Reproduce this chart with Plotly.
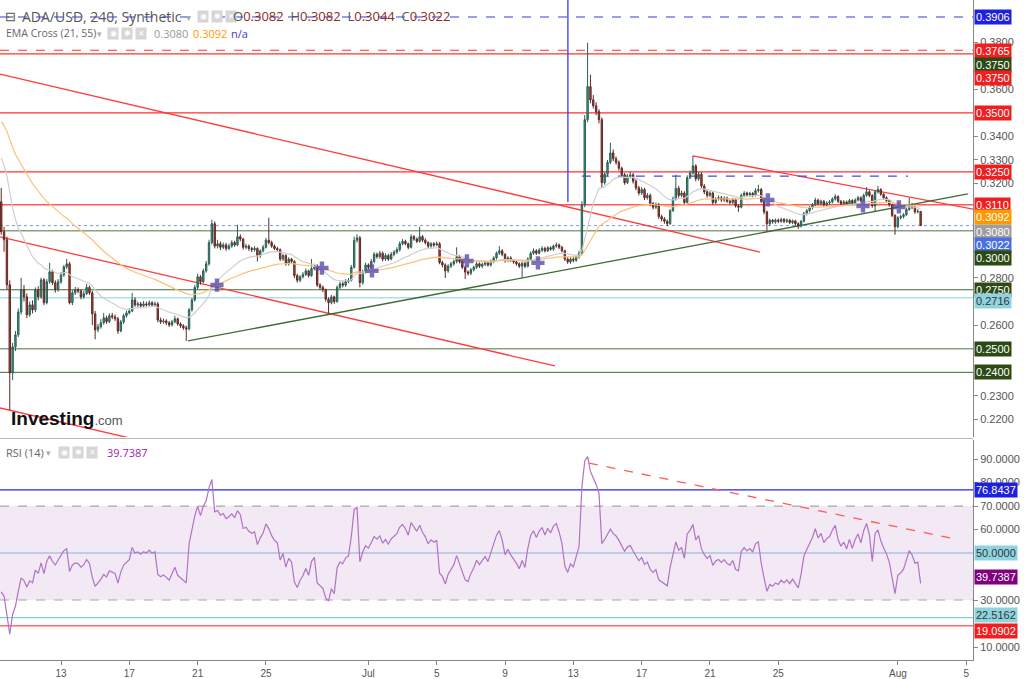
import plotly.graph_objects as go
import pandas as pd

# ---------------- data (4h candles, ADA/USD) ----------------
first_open = 0.3123
close = [
 0.2996, 0.2962, 0.2771,
 0.2398, 0.2508, 0.2559, 0.2656, 0.2750, 0.2720,
 0.2644, 0.2686, 0.2665, 0.2750, 0.2720, 0.2792,
 0.2695, 0.2784, 0.2826, 0.2780, 0.2750, 0.2784,
 0.2813, 0.2847, 0.2860, 0.2695, 0.2737, 0.2750,
 0.2745, 0.2720, 0.2733, 0.2760, 0.2737, 0.2648,
 0.2580, 0.2593, 0.2610, 0.2631, 0.2615, 0.2640,
 0.2635, 0.2627, 0.2575, 0.2614, 0.2640, 0.2652,
 0.2660, 0.2707, 0.2686, 0.2690, 0.2682, 0.2690,
 0.2686, 0.2695, 0.2686, 0.2690, 0.2622, 0.2614,
 0.2618, 0.2610, 0.2601, 0.2614, 0.2627, 0.2605,
 0.2597, 0.2589, 0.2584, 0.2665, 0.2707, 0.2760,
 0.2805, 0.2784, 0.2830, 0.2860, 0.2950, 0.3030,
 0.2935, 0.2945, 0.2930, 0.2940, 0.2925, 0.2935,
 0.2950, 0.2940, 0.2975, 0.2965, 0.2930, 0.2935,
 0.2925, 0.2920, 0.2925, 0.2895, 0.2915, 0.2930,
 0.2960, 0.2950, 0.2935, 0.2925, 0.2920, 0.2880,
 0.2895, 0.2860, 0.2880, 0.2870, 0.2810, 0.2790,
 0.2805, 0.2815, 0.2830, 0.2810, 0.2840, 0.2850,
 0.2770, 0.2760, 0.2750, 0.2710, 0.2695, 0.2720,
 0.2700, 0.2760, 0.2775, 0.2770, 0.2785, 0.2790,
 0.2845, 0.2960, 0.2970, 0.2780, 0.2825, 0.2855,
 0.2845, 0.2870, 0.2900, 0.2890, 0.2905, 0.2880,
 0.2895, 0.2880, 0.2900, 0.2910, 0.2920, 0.2945,
 0.2955, 0.2945, 0.2930, 0.2975, 0.2965, 0.2955,
 0.2975, 0.2960, 0.2950, 0.2935, 0.2945, 0.2940,
 0.2945, 0.2865, 0.2855, 0.2830, 0.2850, 0.2860,
 0.2870, 0.2890, 0.2870, 0.2845, 0.2825, 0.2820,
 0.2835, 0.2845, 0.2860, 0.2850, 0.2858, 0.2865,
 0.2855, 0.2870, 0.2885, 0.2905, 0.2915, 0.2900,
 0.2875, 0.2885, 0.2875, 0.2868, 0.2860, 0.2850,
 0.2862, 0.2850, 0.2880, 0.2905, 0.2915, 0.2905,
 0.2918, 0.2925, 0.2915, 0.2928, 0.2922, 0.2935,
 0.2940, 0.2930, 0.2915, 0.2880, 0.2868, 0.2880,
 0.2875, 0.2890, 0.2905, 0.3110, 0.3471, 0.3611,
 0.3555, 0.3530, 0.3505, 0.3471, 0.3204, 0.3240,
 0.3290, 0.3330, 0.3305, 0.3290, 0.3265, 0.3237,
 0.3204, 0.3230, 0.3237, 0.3210, 0.3182, 0.3160,
 0.3175, 0.3140, 0.3150, 0.3115, 0.3100, 0.3110,
 0.3060, 0.3050, 0.3040, 0.3030, 0.3085, 0.3135,
 0.3180, 0.3150, 0.3160, 0.3120, 0.3225, 0.3245,
 0.3275, 0.3220, 0.3240, 0.3190, 0.3165, 0.3150,
 0.3160, 0.3120, 0.3135, 0.3140, 0.3130, 0.3138,
 0.3125, 0.3120, 0.3132, 0.3105, 0.3100, 0.3150,
 0.3160, 0.3152, 0.3158, 0.3150, 0.3170, 0.3175,
 0.3125, 0.3080, 0.3030, 0.3045, 0.3038, 0.3045,
 0.3040, 0.3048, 0.3040, 0.3045, 0.3035, 0.3042,
 0.3030, 0.3020, 0.3040, 0.3072, 0.3085, 0.3098,
 0.3110, 0.3130, 0.3115, 0.3125, 0.3110, 0.3118,
 0.3122, 0.3135, 0.3145, 0.3125, 0.3115, 0.3122,
 0.3112, 0.3128, 0.3115, 0.3130, 0.3140, 0.3128,
 0.3150, 0.3165, 0.3150, 0.3105, 0.3165, 0.3175,
 0.3155, 0.3140, 0.3128, 0.3110, 0.3065, 0.3017,
 0.3055, 0.3060, 0.3068, 0.3090, 0.3110, 0.3100,
 0.3080, 0.3082, 0.3022,
]
high = [
 0.3182, 0.3017, 0.2975,
 0.2790, 0.2525, 0.2575, 0.2670, 0.2801, 0.2770,
 0.2735, 0.2700, 0.2705, 0.2760, 0.2765, 0.2801,
 0.2800, 0.2795, 0.2864, 0.2835, 0.2790, 0.2795,
 0.2825, 0.2855, 0.2881, 0.2868, 0.2748, 0.2762,
 0.2760, 0.2752, 0.2745, 0.2775, 0.2768, 0.2745,
 0.2660, 0.2605, 0.2625, 0.2652, 0.2640, 0.2650,
 0.2652, 0.2645, 0.2635, 0.2622, 0.2648, 0.2662,
 0.2672, 0.2737, 0.2718, 0.2700, 0.2698, 0.2702,
 0.2700, 0.2705, 0.2702, 0.2700, 0.2698, 0.2632,
 0.2628, 0.2625, 0.2618, 0.2622, 0.2640, 0.2632,
 0.2612, 0.2604, 0.2598, 0.2672, 0.2715, 0.2770,
 0.2818, 0.2812, 0.2840, 0.2872, 0.2962, 0.3047,
 0.3040, 0.2962, 0.2955, 0.2950, 0.2948, 0.2945,
 0.2960, 0.2958, 0.3025, 0.2985, 0.2970, 0.2945,
 0.2942, 0.2932, 0.2935, 0.2930, 0.2922, 0.2940,
 0.2970, 0.3055, 0.2958, 0.2942, 0.2932, 0.2925,
 0.2902, 0.2900, 0.2888, 0.2885, 0.2875, 0.2818,
 0.2812, 0.2825, 0.2840, 0.2835, 0.2880, 0.2860,
 0.2858, 0.2778, 0.2768, 0.2755, 0.2718, 0.2728,
 0.2725, 0.2768, 0.2785, 0.2785, 0.2795, 0.2800,
 0.2855, 0.2975, 0.2985, 0.2978, 0.2835, 0.2865,
 0.2862, 0.2880, 0.2910, 0.2908, 0.2915, 0.2912,
 0.2905, 0.2902, 0.2910, 0.2918, 0.2930, 0.2955,
 0.2965, 0.2962, 0.2950, 0.2985, 0.2982, 0.2972,
 0.3017, 0.2982, 0.2968, 0.2955, 0.2952, 0.2952,
 0.2955, 0.2952, 0.2872, 0.2862, 0.2858, 0.2868,
 0.2878, 0.2930, 0.2898, 0.2875, 0.2852, 0.2832,
 0.2842, 0.2852, 0.2868, 0.2866, 0.2865, 0.2872,
 0.2870, 0.2878, 0.2892, 0.2912, 0.2935, 0.2922,
 0.2905, 0.2892, 0.2892, 0.2880, 0.2875, 0.2866,
 0.2870, 0.2868, 0.2888, 0.2912, 0.2925, 0.2922,
 0.2926, 0.2935, 0.2932, 0.2935, 0.2934, 0.2942,
 0.2950, 0.2946, 0.2936, 0.2920, 0.2888, 0.2888,
 0.2890, 0.2898, 0.2915, 0.3125, 0.3490, 0.3797,
 0.3661, 0.3575, 0.3545, 0.3515, 0.3480, 0.3250,
 0.3300, 0.3373, 0.3345, 0.3315, 0.3298, 0.3272,
 0.3245, 0.3240, 0.3250, 0.3245, 0.3218, 0.3190,
 0.3185, 0.3182, 0.3160, 0.3158, 0.3122, 0.3120,
 0.3118, 0.3068, 0.3058, 0.3048, 0.3092, 0.3145,
 0.3237, 0.3190, 0.3170, 0.3168, 0.3235, 0.3255,
 0.3318, 0.3282, 0.3250, 0.3248, 0.3198, 0.3172,
 0.3168, 0.3166, 0.3142, 0.3150, 0.3148, 0.3146,
 0.3145, 0.3132, 0.3140, 0.3138, 0.3112, 0.3158,
 0.3168, 0.3166, 0.3165, 0.3164, 0.3180, 0.3195,
 0.3182, 0.3130, 0.3085, 0.3052, 0.3050, 0.3052,
 0.3052, 0.3055, 0.3054, 0.3052, 0.3050, 0.3048,
 0.3046, 0.3036, 0.3046, 0.3080, 0.3092, 0.3105,
 0.3118, 0.3140, 0.3136, 0.3132, 0.3130, 0.3125,
 0.3130, 0.3142, 0.3155, 0.3150, 0.3130, 0.3130,
 0.3128, 0.3135, 0.3134, 0.3138, 0.3148, 0.3146,
 0.3158, 0.3185, 0.3172, 0.3155, 0.3172, 0.3190,
 0.3180, 0.3160, 0.3146, 0.3132, 0.3115, 0.3070,
 0.3062, 0.3068, 0.3075, 0.3098, 0.3140, 0.3118,
 0.3106, 0.3092, 0.3082,
]
low = [
 0.2983, 0.2911, 0.2750,
 0.2241, 0.2368, 0.2490, 0.2550, 0.2645, 0.2700,
 0.2630, 0.2635, 0.2650, 0.2655, 0.2705, 0.2712,
 0.2685, 0.2688, 0.2775, 0.2770, 0.2738, 0.2742,
 0.2775, 0.2805, 0.2838, 0.2688, 0.2685, 0.2728,
 0.2735, 0.2710, 0.2712, 0.2728, 0.2728, 0.2600,
 0.2540, 0.2570, 0.2585, 0.2602, 0.2605, 0.2608,
 0.2625, 0.2618, 0.2563, 0.2570, 0.2605, 0.2632,
 0.2645, 0.2655, 0.2678, 0.2675, 0.2672, 0.2675,
 0.2678, 0.2680, 0.2678, 0.2680, 0.2612, 0.2605,
 0.2606, 0.2600, 0.2592, 0.2595, 0.2608, 0.2598,
 0.2588, 0.2580, 0.2533, 0.2578, 0.2658, 0.2700,
 0.2752, 0.2772, 0.2778, 0.2822, 0.2852, 0.2942,
 0.2925, 0.2925, 0.2918, 0.2922, 0.2915, 0.2918,
 0.2928, 0.2932, 0.2935, 0.2955, 0.2920, 0.2922,
 0.2915, 0.2910, 0.2912, 0.2870, 0.2885, 0.2908,
 0.2925, 0.2942, 0.2928, 0.2918, 0.2912, 0.2872,
 0.2872, 0.2852, 0.2852, 0.2860, 0.2800, 0.2780,
 0.2782, 0.2798, 0.2808, 0.2802, 0.2805, 0.2832,
 0.2762, 0.2750, 0.2740, 0.2700, 0.2650, 0.2688,
 0.2690, 0.2695, 0.2752, 0.2760, 0.2762, 0.2778,
 0.2785, 0.2840, 0.2950, 0.2760, 0.2772, 0.2818,
 0.2835, 0.2838, 0.2862, 0.2882, 0.2882, 0.2870,
 0.2872, 0.2872, 0.2875, 0.2892, 0.2902, 0.2912,
 0.2938, 0.2938, 0.2922, 0.2925, 0.2958, 0.2948,
 0.2950, 0.2952, 0.2942, 0.2925, 0.2928, 0.2932,
 0.2935, 0.2858, 0.2845, 0.2800, 0.2822, 0.2842,
 0.2852, 0.2862, 0.2862, 0.2838, 0.2795, 0.2810,
 0.2812, 0.2828, 0.2838, 0.2842, 0.2842, 0.2850,
 0.2848, 0.2848, 0.2862, 0.2878, 0.2898, 0.2892,
 0.2865, 0.2868, 0.2868, 0.2860, 0.2852, 0.2842,
 0.2800, 0.2842, 0.2845, 0.2875, 0.2898, 0.2898,
 0.2900, 0.2910, 0.2908, 0.2910, 0.2915, 0.2915,
 0.2928, 0.2922, 0.2908, 0.2872, 0.2860, 0.2860,
 0.2866, 0.2868, 0.2882, 0.2900, 0.3100, 0.3460,
 0.3540, 0.3518, 0.3490, 0.3455, 0.3182, 0.3195,
 0.3230, 0.3282, 0.3295, 0.3280, 0.3255, 0.3228,
 0.3195, 0.3198, 0.3222, 0.3200, 0.3172, 0.3150,
 0.3152, 0.3130, 0.3132, 0.3105, 0.3090, 0.3092,
 0.3050, 0.3040, 0.3030, 0.3020, 0.3025, 0.3080,
 0.3128, 0.3140, 0.3142, 0.3110, 0.3115, 0.3218,
 0.3238, 0.3210, 0.3212, 0.3182, 0.3155, 0.3140,
 0.3142, 0.3110, 0.3112, 0.3128, 0.3122, 0.3122,
 0.3118, 0.3112, 0.3114, 0.3098, 0.3080, 0.3095,
 0.3142, 0.3145, 0.3145, 0.3142, 0.3145, 0.3162,
 0.3118, 0.3070, 0.3000, 0.3022, 0.3030, 0.3030,
 0.3032, 0.3034, 0.3032, 0.3033, 0.3028, 0.3028,
 0.3022, 0.3008, 0.3014, 0.3035, 0.3065, 0.3078,
 0.3090, 0.3104, 0.3108, 0.3108, 0.3102, 0.3104,
 0.3110, 0.3116, 0.3128, 0.3118, 0.3108, 0.3108,
 0.3105, 0.3106, 0.3108, 0.3110, 0.3124, 0.3120,
 0.3122, 0.3144, 0.3142, 0.3098, 0.3080, 0.3158,
 0.3148, 0.3132, 0.3120, 0.3102, 0.3058, 0.2983,
 0.3010, 0.3048, 0.3052, 0.3062, 0.3085, 0.3092,
 0.3072, 0.3074, 0.3022,
]
candle_start = "2023-06-09 12:00"

# indicator seeds (state before first visible bar)
ema21_seed, ema55_seed = 0.3340, 0.3480
rsi_gain_seed, rsi_loss_seed = 0.0016, 0.0022

# horizontal levels: (price, colour, dash, width)
price_levels = [
    (0.3906, "#2f3cf0", "dash", 1),
    (0.3765, "#ff3030", "dash", 1),
    (0.3750, "#ff3030", "solid", 1.2),
    (0.3500, "#ff3030", "solid", 1.2),
    (0.3250, "#ff3030", "solid", 1.2),
    (0.3110, "#ff5a5a", "solid", 1.5),
    (0.3022, "#7f9be8", "dot", 1),
    (0.3000, "#8d9f83", "solid", 1.5),
    (0.2750, "#3f6b34", "solid", 1),
    (0.2716, "#aee0ea", "solid", 1.5),
    (0.2500, "#8d9f83", "solid", 1.5),
    (0.2400, "#3f6b34", "solid", 1),
]
# trend lines: (date0, price0, date1, price1, colour, dash)
trend_lines = [
    ("2023-06-09 10:17", 0.3664, "2023-07-23 22:19", 0.2910, "#ff3b3b", "solid"),
    ("2023-06-09 10:17", 0.2974, "2023-07-11 22:05", 0.2427, "#ff3b3b", "solid"),
    ("2023-06-09 10:17", 0.2249, "2023-06-21 03:20", 0.2053, "#ff3b3b", "solid"),
    ("2023-07-20 00:00", 0.3317, "2023-08-06 09:22", 0.3078, "#ff3b3b", "solid"),
    ("2023-06-20 10:28", 0.2533, "2023-08-05 02:24", 0.3156, "#3f6b34", "solid"),
    ("2023-07-13 12:00", 0.3232, "2023-08-01 14:10", 0.3232, "#3a4ef0", "dash"),
    ("2023-07-12 16:20", 0.3122, "2023-07-12 16:20", 0.4100, "#3a3af5", "solid"),
]
# EMA cross markers
cross_dates = ["2023-06-22 03:10", "2023-06-28 06:43", "2023-07-01 05:00", "2023-07-06 18:28",
               "2023-07-10 22:15", "2023-07-24 09:22", "2023-07-29 23:00", "2023-08-01 01:26"]
cross_prices = [0.2770, 0.2842, 0.2830, 0.2872, 0.2864, 0.3131, 0.3105, 0.3101]

# right-hand price labels: (value, text, bg, fg, pixel offset down)
price_labels = [
    (0.3906, "0.3906", "#1f1fe0", "white", 0),
    (0.3765, "0.3765", "#f21d1d", "white", 1),
    (0.3750, "0.3750", "#2c4a14", "white", 11),
    (0.3750, "0.3750", "#f21d1d", "white", 24),
    (0.3500, "0.3500", "#f21d1d", "white", 0),
    (0.3250, "0.3250", "#f21d1d", "white", 0),
    (0.3110, "0.3110", "#f21d1d", "white", 0),
    (0.3092, "0.3092", "#ff9800", "white", 8),
    (0.3080, "0.3080", "#9e9e9e", "white", 20),
    (0.3022, "0.3022", "#4a6fe3", "white", 19),
    (0.3000, "0.3000", "#2c4a14", "white", 27),
    (0.2750, "0.2750", "#2c4a14", "white", 0),
    (0.2716, "0.2716", "#8fd3e0", "#333333", 3),
    (0.2500, "0.2500", "#2c4a14", "white", 0),
    (0.2400, "0.2400", "#2c4a14", "white", 0),
]
price_ticks = [0.38, 0.36, 0.34, 0.33, 0.32, 0.28, 0.26, 0.23, 0.22]

rsi_levels = [
    (76.8437, "#2424f0", "solid", 1.2),
    (50.0, "#aac4dc", "solid", 1.5),
    (22.5162, "#7fcfe0", "solid", 1.2),
    (19.0902, "#ff6b6b", "solid", 1.5),
]
rsi_labels = [
    (76.8437, "76.8437", "#1f1fe0", "white", 0),
    (50.0, "50.0000", "#8fd3e0", "#333333", 0),
    (39.7387, "39.7387", "#800080", "white", 0),
    (22.5162, "22.5162", "#8fd3e0", "#333333", -3),
    (19.0902, "19.0902", "#f21d1d", "white", 5),
]
rsi_ticks = [90, 80, 70, 60, 30, 10]
rsi_trend = ("2023-07-13 21:50", 88.3, "2023-08-04 08:10", 56.0)

x_tickvals = ["2023-06-13", "2023-06-17", "2023-06-21", "2023-06-25", "2023-07-01", "2023-07-05",
              "2023-07-09", "2023-07-13", "2023-07-17", "2023-07-21", "2023-07-25", "2023-08-01", "2023-08-05"]
x_ticktext = ["13", "17", "21", "25", "Jul", "5", "9", "13", "17", "21", "25", "Aug", "5"]

# ---------------- derived series ----------------
times = pd.date_range(candle_start, periods=len(close), freq="4h")
opens = [first_open] + close[:-1]


def ema(vals, n, seed):
    a = 2.0 / (n + 1)
    out, e = [], seed
    for v in vals:
        e = e + a * (v - e)
        out.append(e)
    return out


ema21 = ema(close, 21, ema21_seed)
ema55 = ema(close, 55, ema55_seed)

rsi = []
g, l, prev = rsi_gain_seed, rsi_loss_seed, first_open
for c in close:
    d = c - prev
    prev = c
    g = (g * 13 + max(d, 0)) / 14
    l = (l * 13 + max(-d, 0)) / 14
    rsi.append(100 - 100 / (1 + g / l))

# ---------------- figure ----------------
W, H = 1024, 679
PL, PR, PT, PB = 0, 51, 0, 19
PW, PH = W - PL - PR, H - PT - PB
price_dom = [1 - 437 / PH, 1]
rsi_dom = [0, 1 - 440 / PH]


def px(xp):
    return xp / PW


def py(yp):
    return 1 - yp / PH


fig = go.Figure()
fig.add_trace(go.Candlestick(
    x=times, open=opens, high=high, low=low, close=close,
    xaxis="x2", yaxis="y",
    increasing=dict(fillcolor="#26a58a", line=dict(color="#2d5e52", width=1)),
    decreasing=dict(fillcolor="#bb3f35", line=dict(color="#5e2a24", width=1)),
    whiskerwidth=0, showlegend=False, hoverinfo="skip"))
fig.add_trace(go.Scatter(x=times, y=ema21, mode="lines", xaxis="x2", yaxis="y",
                         line=dict(color="#cfcfcf", width=1.2), showlegend=False, hoverinfo="skip"))
fig.add_trace(go.Scatter(x=times, y=ema55, mode="lines", xaxis="x2", yaxis="y",
                         line=dict(color="#fbc27a", width=1.2), showlegend=False, hoverinfo="skip"))
fig.add_trace(go.Scatter(x=pd.to_datetime(cross_dates), y=cross_prices, mode="markers", xaxis="x2", yaxis="y",
                         marker=dict(symbol="cross", size=11, color="rgba(88,78,170,0.8)"),
                         showlegend=False, hoverinfo="skip"))
fig.add_trace(go.Scatter(x=times, y=rsi, mode="lines", xaxis="x", yaxis="y2",
                         line=dict(color="#b173c4", width=1.2), showlegend=False, hoverinfo="skip"))

shapes = []
for v, col, dash, w in price_levels:
    shapes.append(dict(type="line", xref="paper", yref="y", x0=0, x1=1, y0=v, y1=v,
                       line=dict(color=col, width=w, dash=dash), layer="below"))
for d0, p0, d1, p1, col, dash in trend_lines:
    shapes.append(dict(type="line", xref="x2", yref="y", x0=d0, y0=p0, x1=d1, y1=p1,
                       line=dict(color=col, width=1.3, dash=dash), layer="below"))
# RSI band
shapes.append(dict(type="rect", xref="paper", yref="y2", x0=0, x1=1, y0=30, y1=70,
                   fillcolor="rgba(150,70,170,0.12)", line=dict(width=0), layer="below"))
for v in (70, 30):
    shapes.append(dict(type="line", xref="paper", yref="y2", x0=0, x1=1, y0=v, y1=v,
                       line=dict(color="#a8a8a8", width=1.2, dash="dash"), layer="below"))
for v, col, dash, w in rsi_levels:
    shapes.append(dict(type="line", xref="paper", yref="y2", x0=0, x1=1, y0=v, y1=v,
                       line=dict(color=col, width=w, dash=dash), layer="below"))
shapes.append(dict(type="line", xref="x", yref="y2", x0=rsi_trend[0], y0=rsi_trend[1],
                   x1=rsi_trend[2], y1=rsi_trend[3], line=dict(color="#ff5a5a", width=1.3, dash="dash")))
# pane separator
shapes.append(dict(type="line", xref="paper", yref="paper", x0=0, x1=1, y0=py(438.5), y1=py(438.5),
                   line=dict(color="#b8b8b8", width=1)))

ann = []
for v, t, bg, fg, off in price_labels:
    ann.append(dict(xref="paper", yref="y", x=1, y=v, xanchor="left", yanchor="middle", xshift=1,
                    yshift=-off, text=t, showarrow=False, bgcolor=bg, borderpad=1,
                    font=dict(color=fg, size=11, family="Arial")))
for v, t, bg, fg, off in rsi_labels:
    ann.append(dict(xref="paper", yref="y2", x=1, y=v, xanchor="left", yanchor="middle", xshift=1,
                    yshift=-off, text=t, showarrow=False, bgcolor=bg, borderpad=1,
                    font=dict(color=fg, size=11, family="Arial")))


def txt(x, y, t, size=11, color="#555", family="Arial", anchor="left", bg=None, **kw):
    d = dict(xref="paper", yref="paper", x=px(x), y=py(y), xanchor=anchor, yanchor="middle",
             text=t, showarrow=False, font=dict(size=size, color=color, family=family))
    if bg:
        d["bgcolor"] = bg
    d.update(kw)
    ann.append(d)


def icons(x0, y):
    for i, g_ in enumerate(["◉", "✱", "✕"]):
        txt(x0 + i * 14, y, g_, size=8, color="white", anchor="left", bg="#d6d6d6",
            width=10, height=11, borderpad=0)


# header
txt(3, 16, "⊟", size=13, color="#555")
txt(20, 16, "ADA/USD, 240, Synthetic", size=14, color="#555", family="Open Sans")
txt(184, 17, "▾", size=10, color="#aaa")
icons(197, 16)
dr = "#8b2a22"
txt(231, 16, ("O<span style='color:%s'>0.3082</span>  H<span style='color:%s'>0.3082</span>  "
              "L<span style='color:%s'>0.3044</span>  C<span style='color:%s'>0.3022</span>") % (dr, dr, dr, dr),
    size=13, color="#555", family="Open Sans")
txt(4, 33, "EMA Cross (21, 55)", size=10.5, color="#666", family="Open Sans")
txt(95, 34, "▾", size=9, color="#aaa")
icons(107, 33)
txt(152, 33, "0.3080", size=11, color="#999", family="Open Sans")
txt(191, 33, "0.3092", size=11, color="#ff9800", family="Open Sans")
txt(229, 33, "n/a", size=11, color="#3c3ccc", family="Open Sans")
# RSI legend
txt(4, 452, "RSI (14)", size=11, color="#666", family="Open Sans")
txt(44, 453, "▾", size=9, color="#aaa")
icons(58, 452)
txt(105, 452, "39.7387", size=11, color="#9c27b0", family="Open Sans")
# logo
txt(9, 418, "<b>Investing</b><span style='font-size:13px;color:#555'>.com</span>",
    size=19, color="#111", family="Arial")

fig.update_layout(
    width=W, height=H, margin=dict(l=PL, r=PR, t=PT, b=PB),
    paper_bgcolor="white", plot_bgcolor="white", showlegend=False,
    xaxis=dict(domain=[0, 1], anchor="y2", type="date",
               range=["2023-06-09 10:17", "2023-08-05 09:36"],
               tickvals=x_tickvals, ticktext=x_ticktext, ticks="outside", ticklen=4, tickcolor="#888",
               showline=True, linecolor="#888", showgrid=False, zeroline=False,
               tickfont=dict(size=10, color="#555", family="Arial"), rangeslider=dict(visible=False)),
    xaxis2=dict(domain=[0, 1], anchor="y", matches="x", type="date", showticklabels=False,
                showgrid=False, zeroline=False, showline=False, rangeslider=dict(visible=False)),
    yaxis=dict(domain=price_dom, anchor="x2", side="right", range=[0.2126, 0.3978],
               tickvals=price_ticks, ticktext=["%.4f" % v for v in price_ticks],
               ticks="outside", ticklen=4, tickcolor="#888", showline=True, linecolor="#888",
               showgrid=False, zeroline=False, tickfont=dict(size=11, color="#555", family="Arial")),
    yaxis2=dict(domain=rsi_dom, anchor="x", side="right", range=[4.47, 98.1],
                tickvals=rsi_ticks, ticktext=["%.4f" % v for v in rsi_ticks],
                ticks="outside", ticklen=4, tickcolor="#888", showline=True, linecolor="#888",
                showgrid=False, zeroline=False, tickfont=dict(size=11, color="#555", family="Arial")),
    shapes=shapes, annotations=ann,
)
fig.write_html("out.html")
